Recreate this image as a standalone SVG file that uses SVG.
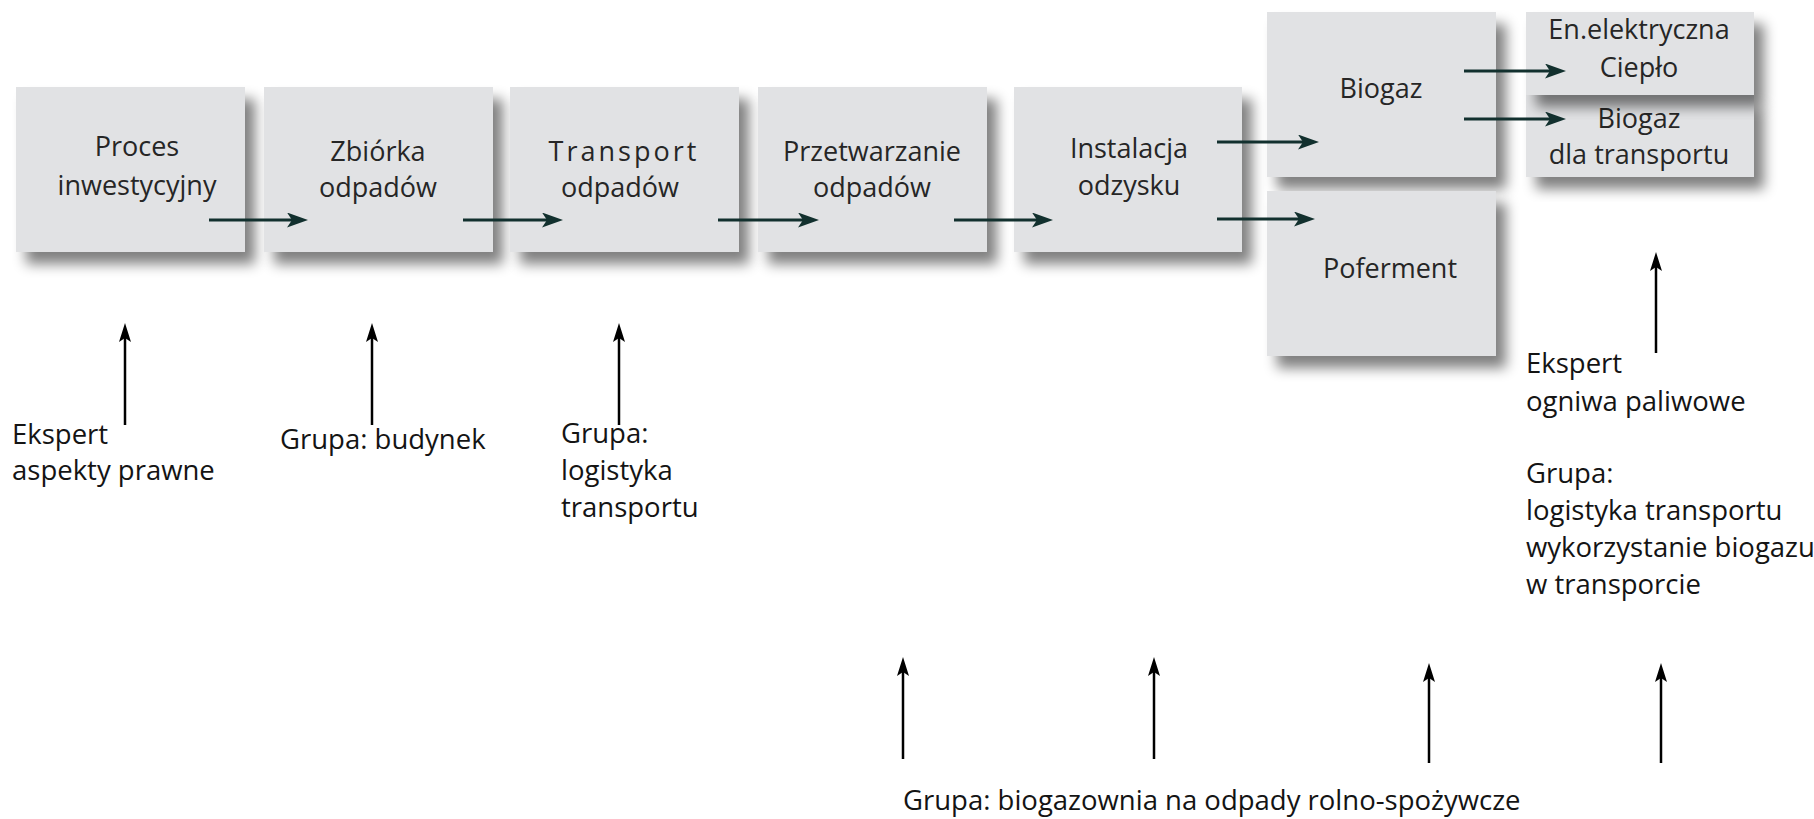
<svg xmlns="http://www.w3.org/2000/svg" width="1814" height="819" viewBox="0 0 1814 819">
<style>
.box{fill:#e1e2e4;filter:url(#sh);}
.bt{font-family:"Open Sans","Noto Sans",sans-serif;font-size:27px;fill:#262626;text-anchor:middle;}
.lb{font-family:"Open Sans","Noto Sans",sans-serif;font-size:27.5px;fill:#141414;}
.ha{stroke:#12302e;stroke-width:3;fill:none;marker-end:url(#mh);}
.va{stroke:#000;stroke-width:2.5;fill:none;marker-end:url(#mv);}
</style>
<defs>
<filter id="sh" x="-20%" y="-20%" width="150%" height="150%">
<feGaussianBlur in="SourceAlpha" stdDeviation="6.5"/>
<feOffset dx="10" dy="12" result="b"/>
<feComponentTransfer><feFuncA type="linear" slope="0.5"/></feComponentTransfer>
<feMerge><feMergeNode/><feMergeNode in="SourceGraphic"/></feMerge>
</filter>
<marker id="mh" markerUnits="userSpaceOnUse" markerWidth="26" markerHeight="18" refX="6" refY="7.5" orient="auto">
<path d="M0,0 L21,7.5 L0,15 L5,7.5 z" fill="#12302e"/>
</marker>
<marker id="mv" markerUnits="userSpaceOnUse" markerWidth="24" markerHeight="16" refX="6" refY="6" orient="auto">
<path d="M0,0 L19,6 L0,12 L4,6 z" fill="#000"/>
</marker>
</defs>
<rect width="1814" height="819" fill="#fff"/>
<g id="n1"><rect class="box" x="16" y="87" width="229" height="165"/><text class="bt" x="137" y="156">Proces</text><text class="bt" x="137" y="195">inwestycyjny</text></g>
<g id="n2"><rect class="box" x="264" y="87" width="229" height="165"/><text class="bt" x="378" y="161">Zbiórka</text><text class="bt" x="378" y="197">odpadów</text></g>
<g id="n3"><rect class="box" x="510" y="87" width="229" height="165"/><text class="bt" x="624" y="161" letter-spacing="3">Transport</text><text class="bt" x="620" y="197">odpadów</text></g>
<g id="n4"><rect class="box" x="758" y="87" width="229" height="165"/><text class="bt" x="872" y="161">Przetwarzanie</text><text class="bt" x="872" y="197">odpadów</text></g>
<g id="n5"><rect class="box" x="1014" y="87" width="228" height="165"/><text class="bt" x="1129" y="158">Instalacja</text><text class="bt" x="1129" y="195">odzysku</text></g>
<g id="n6"><rect class="box" x="1267" y="12" width="229" height="165"/><text class="bt" x="1381" y="98">Biogaz</text></g>
<g id="n7"><rect class="box" x="1267" y="191" width="229" height="165"/><text class="bt" x="1390" y="278">Poferment</text></g>
<g id="n9"><rect class="box" x="1526" y="95" width="228" height="82"/><text class="bt" x="1639" y="128">Biogaz</text><text class="bt" x="1639" y="164">dla transportu</text></g>
<g id="n8"><rect class="box" x="1526" y="12" width="228" height="83"/><text class="bt" x="1639" y="39">En.elektryczna</text><text class="bt" x="1639" y="77">Ciepło</text></g>
<g id="connectors">
<path class="ha" d="M209,220 H293"/>
<path class="ha" d="M463,220 H548"/>
<path class="ha" d="M718,220 H804"/>
<path class="ha" d="M954,220 H1038"/>
<path class="ha" d="M1217,142 H1304"/>
<path class="ha" d="M1217,219 H1300"/>
<path class="ha" d="M1464,71 H1551"/>
<path class="ha" d="M1464,119 H1551"/>
<path class="va" d="M125,425 V336"/>
<path class="va" d="M372,425 V336"/>
<path class="va" d="M619,425 V336"/>
<path class="va" d="M1656,353 V265"/>
<path class="va" d="M903,759 V670"/>
<path class="va" d="M1154,759 V670"/>
<path class="va" d="M1429,763 V676"/>
<path class="va" d="M1661,763 V676"/>
</g>
<g id="labels">
<text class="lb" x="12" y="444">Ekspert</text>
<text class="lb" x="12" y="480">aspekty prawne</text>
<text class="lb" x="280" y="449">Grupa: budynek</text>
<text class="lb" x="561" y="443">Grupa:</text>
<text class="lb" x="561" y="480">logistyka</text>
<text class="lb" x="561" y="517">transportu</text>
<text class="lb" x="1526" y="373">Ekspert</text>
<text class="lb" x="1526" y="411">ogniwa paliwowe</text>
<text class="lb" x="1526" y="483">Grupa:</text>
<text class="lb" x="1526" y="520">logistyka transportu</text>
<text class="lb" x="1526" y="557">wykorzystanie biogazu</text>
<text class="lb" x="1526" y="594">w transporcie</text>
<text class="lb" x="903" y="810" font-size="28">Grupa: biogazownia na odpady rolno-spożywcze</text>
</g>
</svg>
